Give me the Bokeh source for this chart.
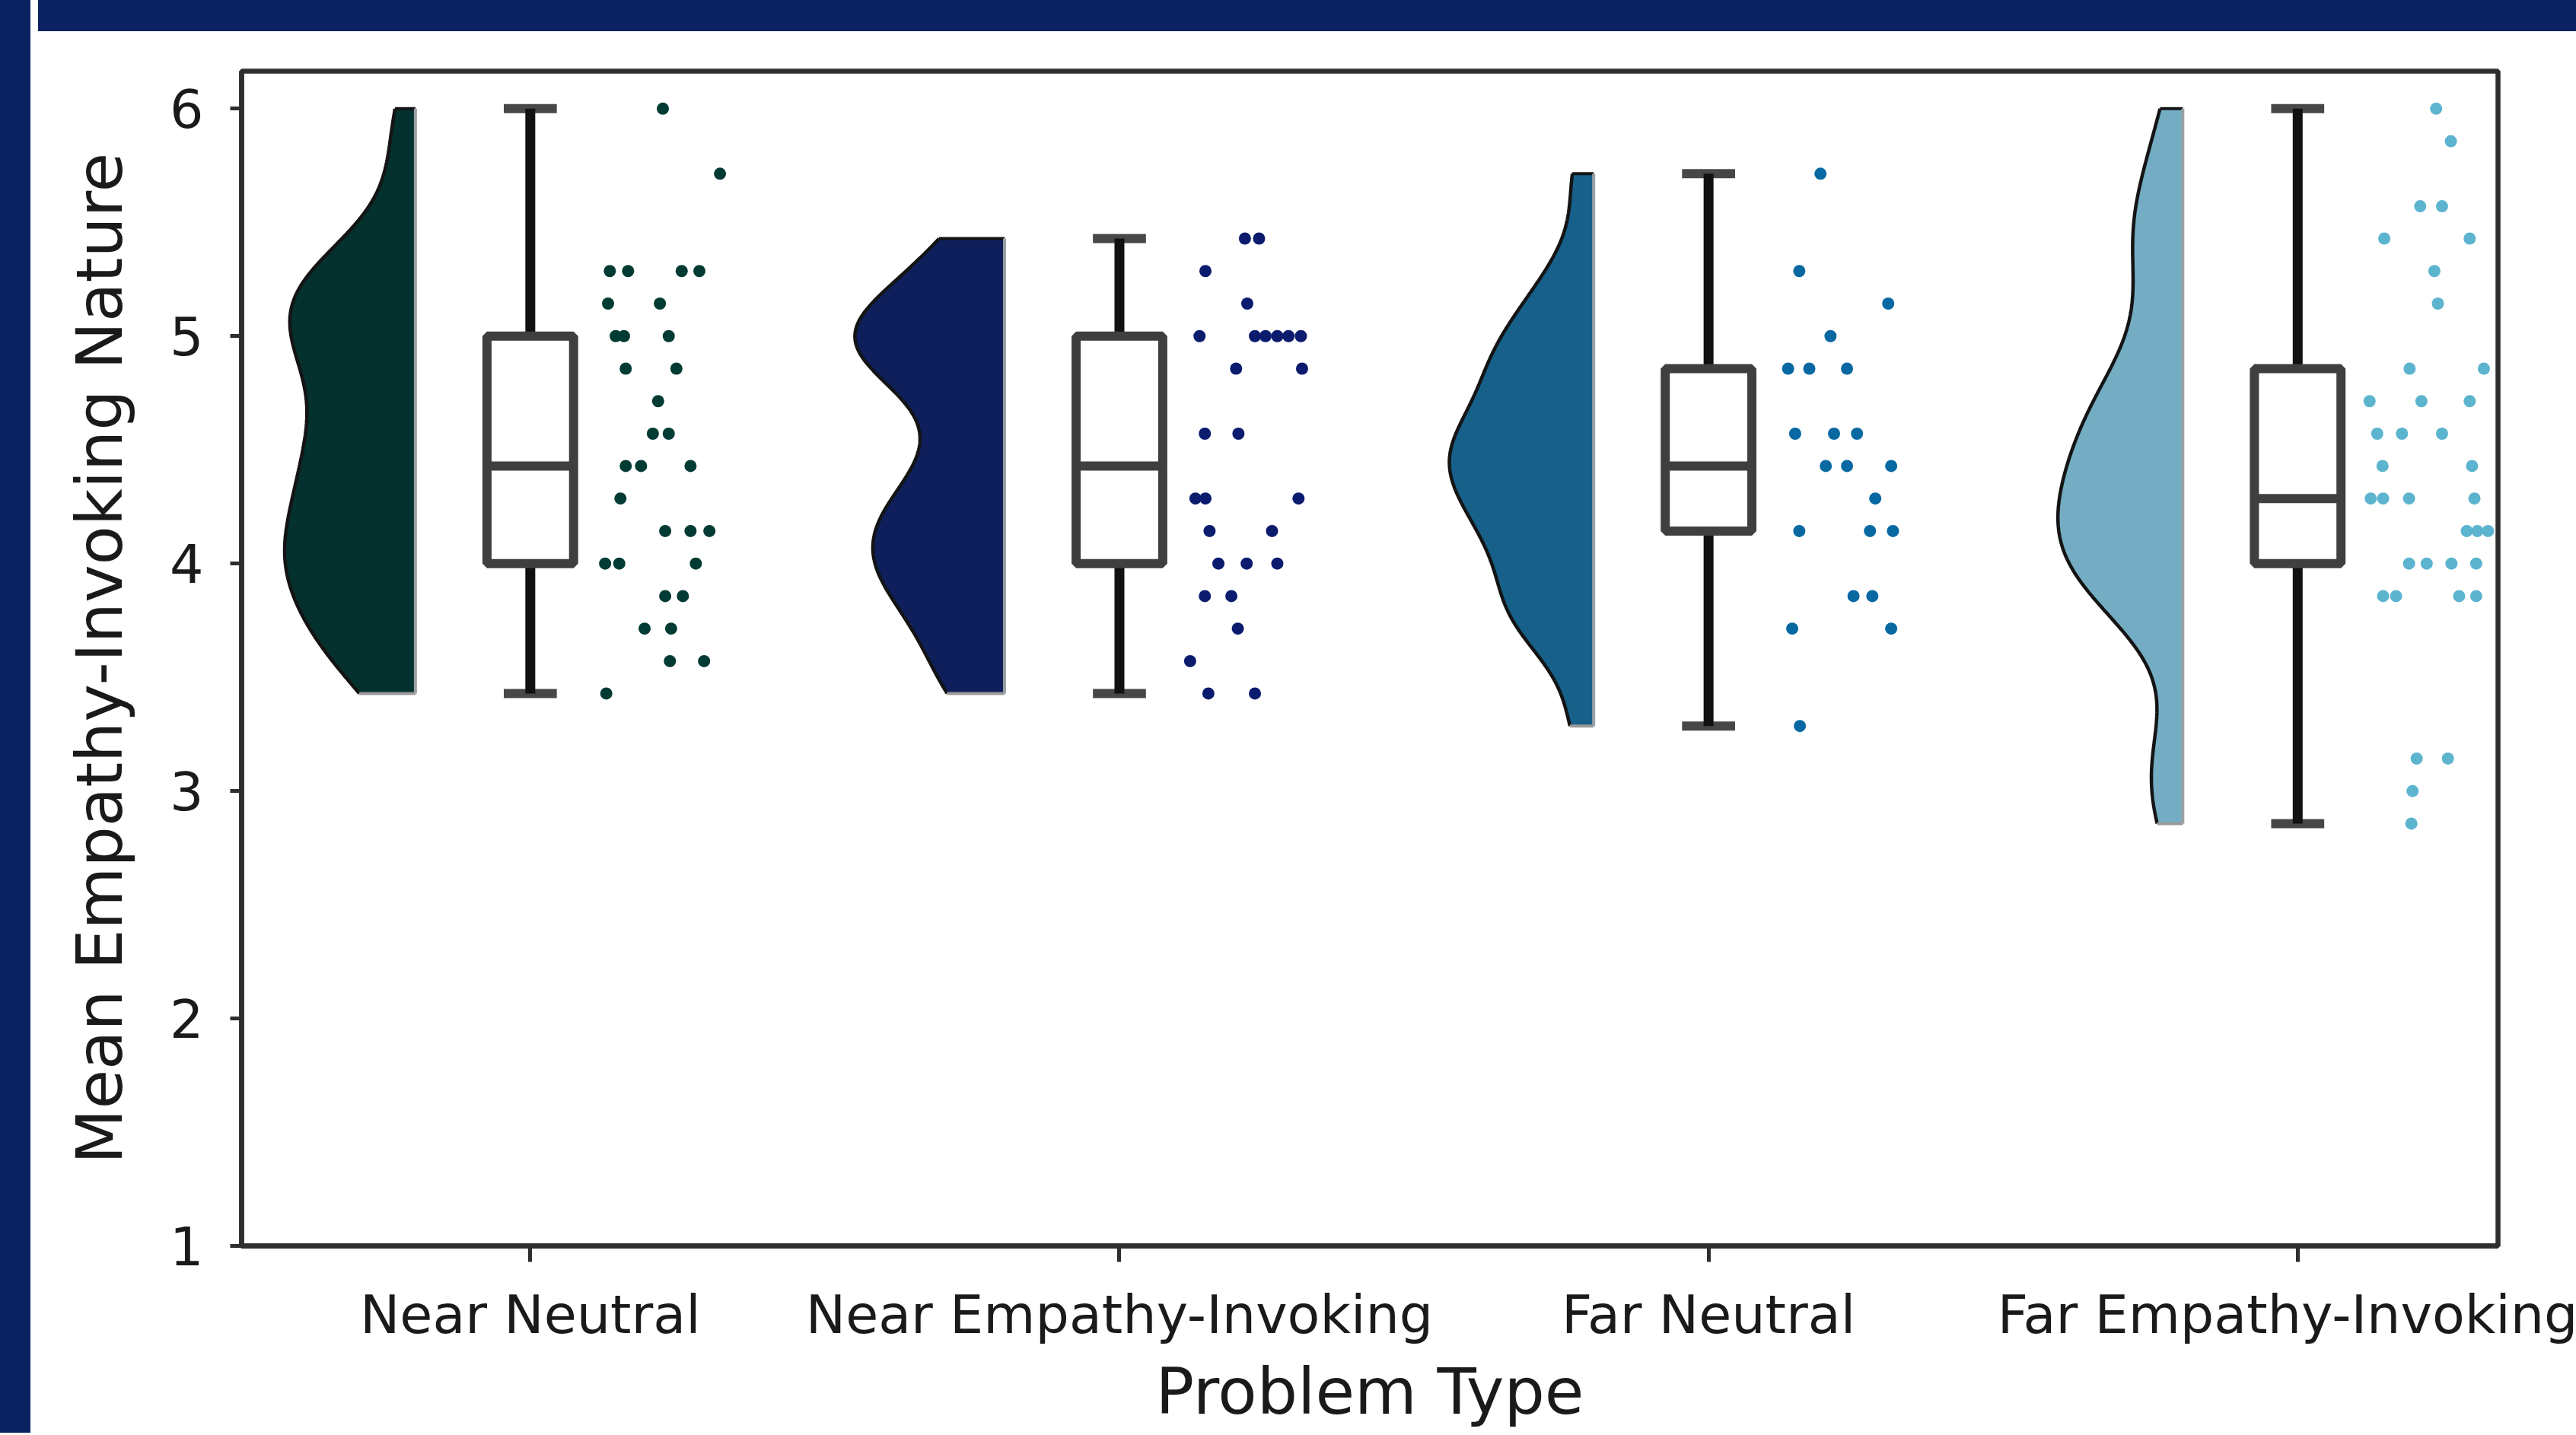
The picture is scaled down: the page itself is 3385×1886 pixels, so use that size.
import numpy as np
from bokeh.plotting import figure
from bokeh.models import Range1d, FixedTicker, Div
from bokeh.layouts import row, column
from bokeh.embed import file_html
from bokeh.resources import INLINE

# ---------------- data ----------------
categories = ["Near Neutral", "Near Empathy-Invoking", "Far Neutral", "Far Empathy-Invoking"]

near_neutral = [6.0, 5.714, 5.286, 5.286, 5.286, 5.286, 5.143, 5.143, 5.0, 5.0, 5.0,
                4.857, 4.857, 4.714, 4.571, 4.571, 4.429, 4.429, 4.429, 4.286,
                4.143, 4.143, 4.143, 4.0, 4.0, 4.0, 3.857, 3.857, 3.714, 3.714,
                3.571, 3.571, 3.429]
near_neutral_jitter = [0.225, 0.322, 0.135, 0.166, 0.257, 0.287, 0.132, 0.220, 0.145, 0.159, 0.235,
                       0.162, 0.248, 0.217, 0.208, 0.235, 0.162, 0.188, 0.272, 0.153,
                       0.229, 0.272, 0.304, 0.127, 0.151, 0.281, 0.229, 0.259, 0.194, 0.239,
                       0.237, 0.295, 0.129]

near_empathy = [5.429, 5.429, 5.286, 5.143, 5.0, 5.0, 5.0, 5.0, 5.0, 5.0,
                4.857, 4.857, 4.571, 4.571, 4.286, 4.286, 4.286, 4.143, 4.143,
                4.0, 4.0, 4.0, 3.857, 3.857, 3.714, 3.571, 3.429, 3.429]
near_empathy_jitter = [0.213, 0.237, 0.146, 0.217, 0.136, 0.230, 0.248, 0.268, 0.287, 0.308,
                       0.198, 0.310, 0.145, 0.202, 0.129, 0.146, 0.304, 0.153, 0.259,
                       0.168, 0.216, 0.268, 0.145, 0.190, 0.201, 0.120, 0.151, 0.230]

far_neutral = [5.714, 5.286, 5.143, 5.0, 4.857, 4.857, 4.857, 4.571, 4.571, 4.571,
               4.429, 4.429, 4.429, 4.286, 4.143, 4.143, 4.143, 3.857, 3.857,
               3.714, 3.714, 3.286]
far_neutral_jitter = [0.190, 0.154, 0.305, 0.207, 0.135, 0.171, 0.235, 0.147, 0.213, 0.252,
                      0.199, 0.235, 0.310, 0.283, 0.154, 0.274, 0.313, 0.246, 0.278,
                      0.142, 0.310, 0.155]

far_empathy = [6.0, 5.857, 5.571, 5.571, 5.429, 5.429, 5.286, 5.143, 4.857, 4.857,
               4.714, 4.714, 4.714, 4.571, 4.571, 4.571, 4.429, 4.429,
               4.286, 4.286, 4.286, 4.286, 4.143, 4.143, 4.143,
               4.0, 4.0, 4.0, 4.0, 3.857, 3.857, 3.857, 3.857,
               3.143, 3.143, 3.0, 2.857]
far_empathy_jitter = [0.235, 0.260, 0.208, 0.245, 0.147, 0.292, 0.232, 0.238, 0.190, 0.316,
                      0.122, 0.210, 0.292, 0.135, 0.177, 0.245, 0.144, 0.296,
                      0.124, 0.145, 0.189, 0.300, 0.287, 0.305, 0.323,
                      0.189, 0.219, 0.261, 0.303, 0.145, 0.167, 0.274, 0.303,
                      0.202, 0.255, 0.195, 0.193]

groups = [near_neutral, near_empathy, far_neutral, far_empathy]
jitters = [near_neutral_jitter, near_empathy_jitter, far_neutral_jitter, far_empathy_jitter]

y_ticks = [1, 2, 3, 4, 5, 6]

# ---------------- styles ----------------
NAVY = "#0b2361"
violin_colors = ["#04302d", "#0e1f5c", "#16608a", "#74adc3"]
dot_colors = ["#023b34", "#0b1b6e", "#0768a2", "#5cb4cf"]
violin_max_widths = [0.222, 0.254, 0.245, 0.212]
FONT = "DejaVu Sans"

W_TOTAL, H_TOTAL = 3385, 1886
LEFT_BAND, TOP_BAND = 43, 44
FIG_W, FIG_H = W_TOTAL - LEFT_BAND, H_TOTAL - TOP_BAND

p = figure(width=FIG_W, height=FIG_H, output_backend="svg", toolbar_location=None,
           x_range=Range1d(-0.49, 3.34), y_range=Range1d(1, 6.165),
           min_border_left=272, min_border_right=105, min_border_top=47, min_border_bottom=251,
           background_fill_color="white", border_fill_color="white")
p.grid.visible = False
p.outline_line_color = "#2e2e2e"
p.outline_line_width = 6.5

# ---------------- violins (half, KDE, cut 0) ----------------
BW_FACTOR = 0.35

def kde(vals, grid):
    v = np.asarray(vals, dtype=float)
    n = len(v)
    bw = v.std(ddof=1) * BW_FACTOR
    z = (grid[:, None] - v[None, :]) / bw
    return np.exp(-0.5 * z ** 2).sum(axis=1) / (n * bw * np.sqrt(2 * np.pi))

V_OFF = -0.195
for i, vals in enumerate(groups):
    g = np.linspace(min(vals), max(vals), 400)
    d = kde(vals, g)
    base = i + V_OFF
    xs = base - violin_max_widths[i] * d / d.max()
    px = list(xs) + [base, base]
    py = list(g) + [g[-1], g[0]]
    p.patch(px, py, fill_color=violin_colors[i], line_color=None)
    p.line(list(xs), list(g), line_color="#141414", line_width=4.5)
    p.line([xs[0], base], [g[0], g[0]], line_color="#9a9a9a", line_width=4)
    p.line([xs[-1], base], [g[-1], g[-1]], line_color="#141414", line_width=4)
    p.line([base, base], [g[0], g[-1]], line_color="#9aa0a3", line_width=4)

# ---------------- boxes ----------------
BOX_HW = 0.0735
CAP_HW = 0.045
for i, vals in enumerate(groups):
    v = np.asarray(vals, dtype=float)
    q1, med, q3 = np.percentile(v, [25, 50, 75])
    iqr = q3 - q1
    lo = v[v >= q1 - 1.5 * iqr].min()
    hi = v[v <= q3 + 1.5 * iqr].max()
    p.segment(x0=[i - CAP_HW, i - CAP_HW], y0=[lo, hi], x1=[i + CAP_HW, i + CAP_HW], y1=[lo, hi],
              line_color="#474747", line_width=12)
    p.segment(x0=[i, i], y0=[q1, q3], x1=[i, i], y1=[lo, hi], line_color="#111111", line_width=13)
    p.quad(left=[i - BOX_HW], right=[i + BOX_HW], bottom=[q1], top=[q3],
           fill_color="white", line_color="#3f3f3f", line_width=12)
    p.segment(x0=[i - BOX_HW], y0=[med], x1=[i + BOX_HW], y1=[med],
              line_color="#3f3f3f", line_width=12)

# ---------------- strip points ----------------
for i, (vals, jit) in enumerate(zip(groups, jitters)):
    p.scatter([i + j for j in jit], vals, size=16, fill_color=dot_colors[i], line_color=None)

# ---------------- axes ----------------
p.xaxis.ticker = FixedTicker(ticks=[0, 1, 2, 3])
p.xaxis.major_label_overrides = {k: c for k, c in enumerate(categories)}
p.yaxis.ticker = FixedTicker(ticks=y_ticks)
p.xaxis.minor_tick_line_color = None
p.yaxis.minor_tick_line_color = None
for ax in (p.xaxis, p.yaxis):
    ax.axis_line_color = "#2e2e2e"
    ax.axis_line_width = 6.5
    ax.major_tick_line_color = "#2e2e2e"
    ax.major_tick_line_width = 5
    ax.major_tick_in = 0
    ax.major_label_text_font = FONT
    ax.major_label_text_font_size = "70px"
    ax.major_label_text_color = "#1a1a1a"
    ax.axis_label_text_font = FONT
    ax.axis_label_text_font_size = "84px"
    ax.axis_label_text_font_style = "normal"
    ax.axis_label_text_color = "#1a1a1a"
p.xaxis.major_tick_out = 21
p.yaxis.major_tick_out = 15
p.xaxis.major_label_standoff = 28
p.yaxis.major_label_standoff = 35
p.xaxis.axis_label = "Problem Type"
p.yaxis.axis_label = "Mean Empathy-Invoking Nature"
p.xaxis.axis_label_standoff = 8
p.yaxis.axis_label_standoff = 40

left = Div(text="", width=LEFT_BAND, height=H_TOTAL, styles={"background-color": NAVY})
top = Div(text="", width=FIG_W, height=TOP_BAND, styles={"background-color": NAVY})
layout = row(left, column(top, p, spacing=0), spacing=0,
             styles={"margin-top": "-8px", "margin-left": "-8px"})

open("out.html", "w").write(file_html(layout, INLINE))
